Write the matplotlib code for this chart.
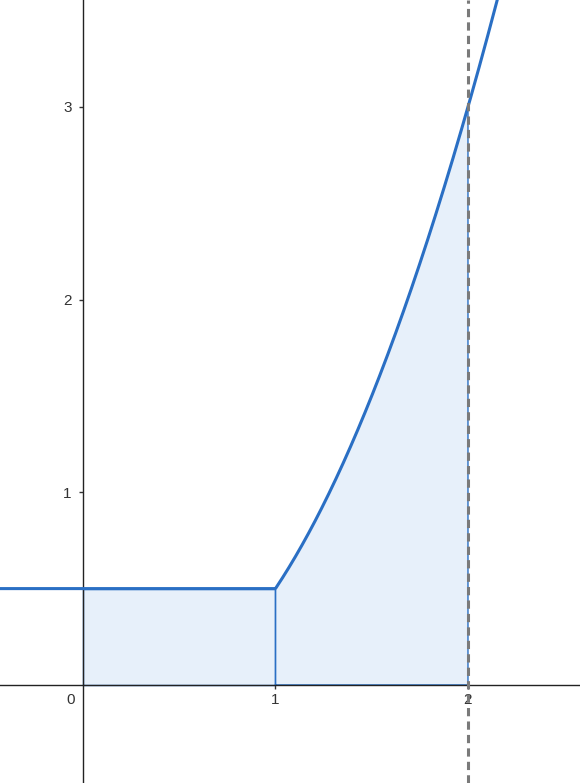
import numpy as np
import matplotlib
matplotlib.use("Agg")
import matplotlib.pyplot as plt

# Data: piecewise function f(x) = 0.5 for x < 1, x^2 - x/2 for x >= 1
const_value = 0.5
break_x = 1.0
quad_coeffs = [1.0, -0.5, 0.0]   # x^2 - 0.5x
area_start = 0.0
area_end = 2.0
marker_x = 2.0
x_ticks = [1, 2]
y_ticks = [1, 2, 3]
x_limits = (-0.431, 2.582)
y_limits = (-0.509, 3.555)

plt.rcParams['font.family'] = ['Liberation Sans', 'DejaVu Sans']

def f(x):
    x = np.asarray(x, dtype=float)
    return np.where(x < break_x, const_value, np.polyval(quad_coeffs, x))

fig = plt.figure(figsize=(5.8, 7.83), dpi=100)
ax = fig.add_axes([0, 0, 1, 1])
ax.set_xlim(*x_limits)
ax.set_ylim(*y_limits)

blue = '#2a6fc4'
fill_c = '#e7f0fa'

# shaded regions
x1 = np.linspace(area_start, break_x, 50)
x2 = np.linspace(break_x, area_end, 200)
for xs in (x1, x2):
    ys = f(xs)
    ax.fill_between(xs, 0, ys, color=fill_c, zorder=1, lw=0)
    px = np.concatenate([[xs[0]], xs, [xs[-1], xs[0]]])
    py = np.concatenate([[0], ys, [0, 0]])
    ax.plot(px, py, color=blue, lw=1.0, zorder=2)

# function curve
xc = np.linspace(x_limits[0], x_limits[1], 800)
ax.plot(xc, f(xc), color=blue, lw=2.2, zorder=4, solid_capstyle='butt')

# dashed vertical line
ax.axvline(marker_x, color='#7a7a7a', lw=2.2, ls=(0, (2.7, 1.7)), zorder=5)

# axes at origin
for s in ['top', 'right']:
    ax.spines[s].set_visible(False)
ax.spines['left'].set_position(('data', 0))
ax.spines['bottom'].set_position(('data', 0))
for s in ['left', 'bottom']:
    ax.spines[s].set_color('#222222')
    ax.spines[s].set_linewidth(1.0)
    ax.spines[s].set_zorder(3)

ax.set_xticks(x_ticks)
ax.set_yticks(y_ticks)
ax.set_xticklabels([str(t) for t in x_ticks])
ax.set_yticklabels([str(t) for t in y_ticks])
ax.tick_params(axis='both', direction='out', length=3, width=1, color='#333333',
               labelsize=11, labelcolor='#333333', pad=3)
ax.tick_params(axis='y', pad=5)
ax.text(-0.04, -0.04, '0', ha='right', va='top', fontsize=11, color='#333333')

fig.savefig('out.png', dpi=100)
